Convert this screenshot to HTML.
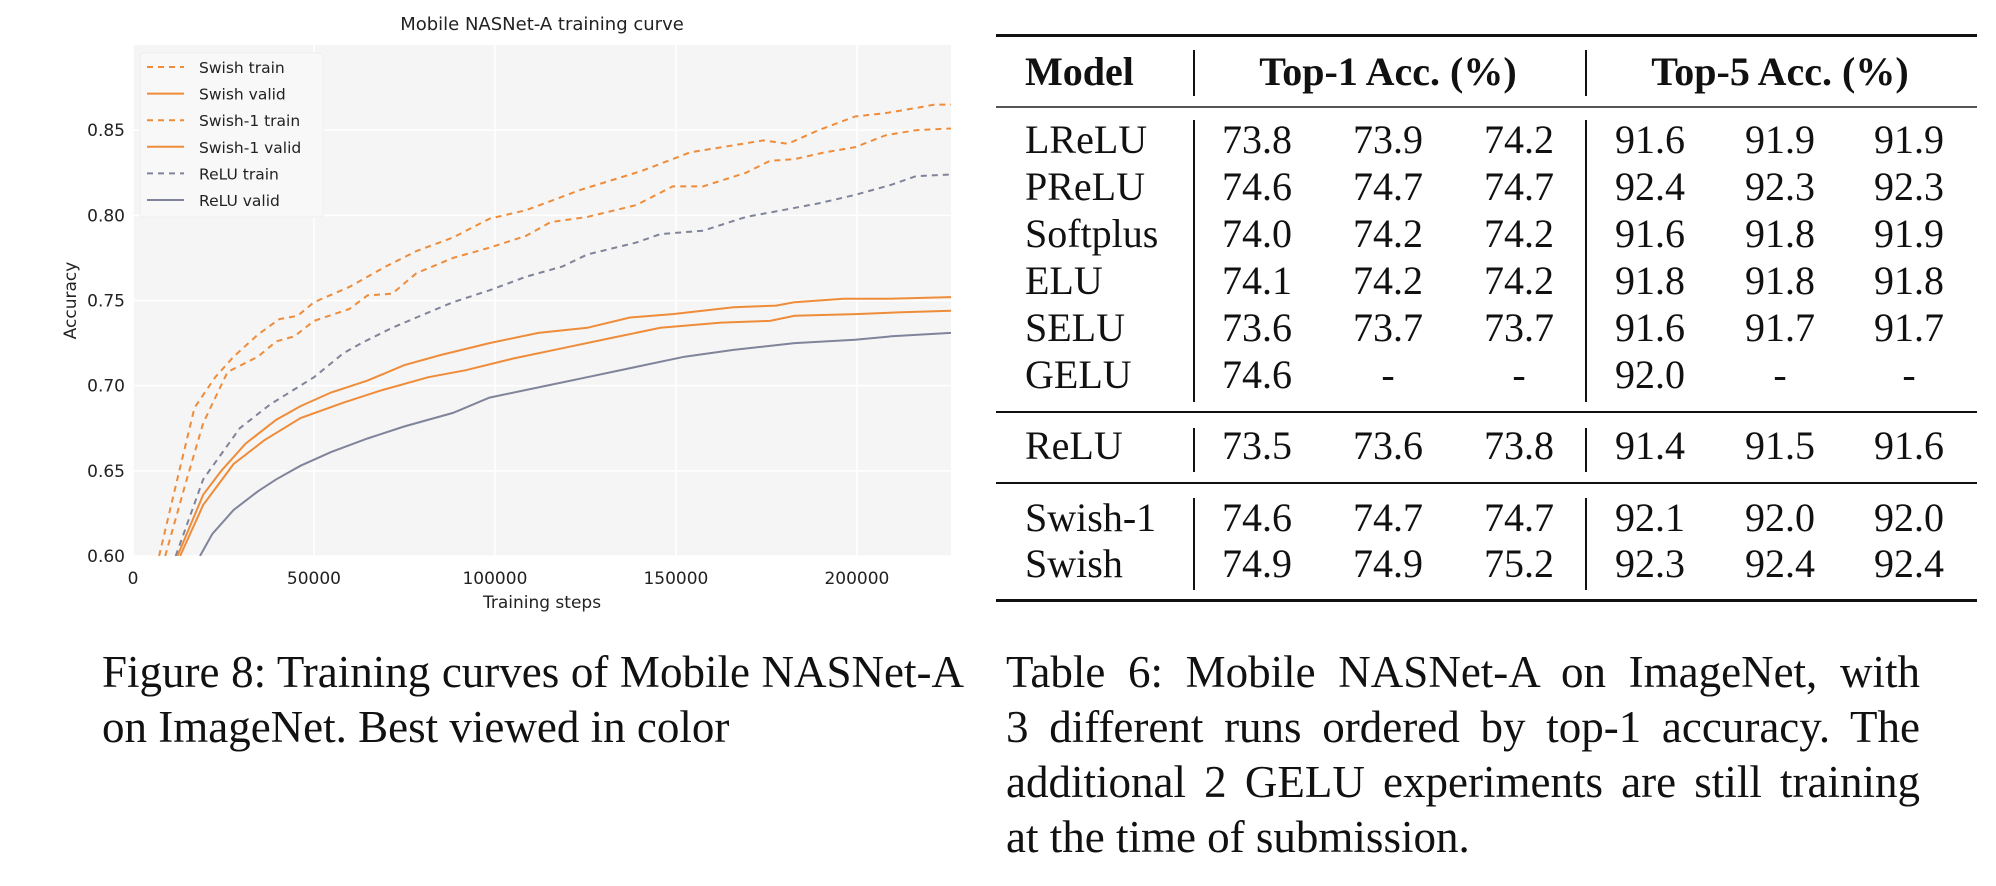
<!DOCTYPE html>
<html><head><meta charset="utf-8">
<style>
html,body{margin:0;padding:0;background:#fff;width:1996px;height:886px;overflow:hidden;position:relative}
.t{position:absolute;font-family:"Liberation Serif",serif;color:#111;white-space:nowrap}
.cl{position:absolute;font-family:"Liberation Serif",serif;color:#111;font-size:45px;line-height:55px;height:55px;white-space:nowrap;text-align:justify;text-align-last:justify}
.cl.last{text-align-last:left}
.rule{position:absolute;background:#111}
</style></head>
<body>
<svg id="chart" width="980" height="640" style="position:absolute;left:0;top:0;font-family:'DejaVu Sans',sans-serif"></svg>

<div class="rule" style="left:996px;top:34px;width:981px;height:3px"></div>
<div class="rule" style="left:996px;top:106px;width:981px;height:2px;background:#555"></div>
<div class="rule" style="left:996px;top:411px;width:981px;height:2px"></div>
<div class="rule" style="left:996px;top:482px;width:981px;height:2px"></div>
<div class="rule" style="left:996px;top:599px;width:981px;height:3px"></div>
<div id="table"></div>

<div>
<div class="cl" style="left:102px;top:645px;width:862px">Figure 8: Training curves of Mobile NASNet-A</div>
<div class="cl last" style="left:102px;top:700px;width:862px">on ImageNet. Best viewed in color</div>
</div>
<div>
<div class="cl" style="left:1006px;top:645px;width:914px">Table 6: Mobile NASNet-A on ImageNet, with</div>
<div class="cl" style="left:1006px;top:700px;width:914px">3 different runs ordered by top-1 accuracy. The</div>
<div class="cl" style="left:1006px;top:755px;width:914px">additional 2 GELU experiments are still training</div>
<div class="cl last" style="left:1006px;top:810px;width:914px">at the time of submission.</div>
</div>

<script>
// ---- chart data ----
const swishTrainX=[7200,12800,17000,22700,27800,34500,40400,45500,50000,59800,69900,78300,88400,98500,108600,123700,140500,154000,174200,180900,189400,199500,207900,216300,221400,226000];
const swishTrainY=[0.60,0.65,0.687,0.705,0.717,0.73,0.739,0.741,0.749,0.758,0.77,0.779,0.787,0.798,0.803,0.815,0.826,0.837,0.844,0.842,0.850,0.858,0.86,0.863,0.865,0.865];
const swish1TrainX=[8900,14300,19400,26100,34500,39600,44600,50000,59800,64800,71600,78300,88400,98500,108600,115400,125500,139000,149100,157500,169300,176000,182800,191200,199500,207900,216300,226000];
const swish1TrainY=[0.60,0.641,0.678,0.708,0.717,0.726,0.729,0.738,0.745,0.753,0.754,0.766,0.775,0.781,0.788,0.796,0.799,0.806,0.817,0.817,0.825,0.832,0.833,0.837,0.84,0.847,0.85,0.851];
const reluTrainX=[11800,19400,29500,37900,50000,58100,63100,71600,78300,88400,98500,108600,118700,125500,139000,145700,157500,169300,179400,189400,199500,209600,216300,226000];
const reluTrainY=[0.60,0.645,0.675,0.689,0.705,0.719,0.725,0.734,0.74,0.749,0.756,0.764,0.77,0.777,0.784,0.789,0.791,0.799,0.803,0.807,0.812,0.818,0.823,0.824];
const swishValidX=[12300,19400,24400,31100,39600,46300,54700,64800,74900,85000,98500,112000,125500,137300,149100,165900,177700,182800,196300,207900,226000];
const swishValidY=[0.60,0.636,0.65,0.666,0.68,0.688,0.696,0.703,0.712,0.718,0.725,0.731,0.734,0.74,0.742,0.746,0.747,0.749,0.751,0.751,0.752];
const swish1ValidX=[13000,19400,27800,36300,46300,58100,68200,81600,91800,105200,118700,132100,145700,162500,176000,182800,199500,211300,226000];
const swish1ValidY=[0.60,0.63,0.654,0.668,0.681,0.69,0.697,0.705,0.709,0.716,0.722,0.728,0.734,0.737,0.738,0.741,0.742,0.743,0.744];
const reluValidX=[18500,21900,27800,34500,39600,46300,54700,64800,74900,88400,98500,112000,125500,139000,152400,165900,182800,199500,209600,226000];
const reluValidY=[0.60,0.613,0.627,0.638,0.645,0.653,0.661,0.669,0.676,0.684,0.693,0.699,0.705,0.711,0.717,0.721,0.725,0.727,0.729,0.731];
const xTicks=[0,50000,100000,150000,200000];
const yTicks=[0.60,0.65,0.70,0.75,0.80,0.85];
const yTickLabels=["0.60","0.65","0.70","0.75","0.80","0.85"];
const legendLabels=["Swish train","Swish valid","Swish-1 train","Swish-1 valid","ReLU train","ReLU valid"];

const L=133,R=951,T=45,B=556,XMAX=226000,YMIN=0.60,YMAX=0.90;
const sx=v=>L+(v/XMAX)*(R-L);
const sy=v=>B-(v-YMIN)/(YMAX-YMIN)*(B-T);
const NS="http://www.w3.org/2000/svg";
const svg=document.getElementById('chart');
function mk(tag,attrs,parent){const e=document.createElementNS(NS,tag);for(const k in attrs)e.setAttribute(k,attrs[k]);(parent||svg).appendChild(e);return e;}

const clip=mk('clipPath',{id:'pc'});mk('rect',{x:L,y:T,width:R-L,height:B-T},clip);
let e=mk('rect',{x:L,y:T,width:R-L,height:B-T,fill:'#f5f5f5'});


xTicks.forEach(v=>{
  const g=mk('line',{x1:sx(v),x2:sx(v),y1:T,y2:B,stroke:'#fff','stroke-width':1.5});
  
  
  const t=mk('text',{x:sx(v),y:B+28,'text-anchor':'middle','font-size':17,fill:'#222'});t.textContent=v;
  
  
});
yTicks.forEach((v,i)=>{
  const g=mk('line',{x1:L,x2:R,y1:sy(v),y2:sy(v),stroke:'#fff','stroke-width':1.5});
  
  
  const t=mk('text',{x:L-8,y:sy(v)+6,'text-anchor':'end','font-size':17,fill:'#222'});t.textContent=yTickLabels[i];
  
  
});
const orange='#ef8c3a',gray='#80849a';
const series=[
 [swishTrainX,swishTrainY,orange,true,'swish-train-line'],
 [swish1TrainX,swish1TrainY,orange,true,'swish1-train-line'],
 [reluTrainX,reluTrainY,gray,true,'relu-train-line'],
 [swishValidX,swishValidY,orange,false,'swish-valid-line'],
 [swish1ValidX,swish1ValidY,orange,false,'swish1-valid-line'],
 [reluValidX,reluValidY,gray,false,'relu-valid-line']];
series.forEach(s=>{
  const d=s[0].map((x,i)=>(i?'L':'M')+sx(x).toFixed(1)+','+sy(s[1][i]).toFixed(1)).join('');
  const p=mk('path',{d:d,fill:'none',stroke:s[2],'stroke-width':2,'clip-path':'url(#pc)','stroke-dasharray':s[3]?'6,5':'none'});
  
  
});
// legend
const lg=mk('rect',{x:140,y:53,width:183,height:164,rx:3,fill:'#f8f8f8',stroke:'#eee'});


const legStyle=[[orange,true],[orange,false],[orange,true],[orange,false],[gray,true],[gray,false]];
legendLabels.forEach((lab,i)=>{
  const y=67+i*26.6;
  const ln=mk('line',{x1:147,x2:184,y1:y,y2:y,stroke:legStyle[i][0],'stroke-width':2,'stroke-dasharray':legStyle[i][1]?'6,5':'none'});
  
  
  const t=mk('text',{x:199,y:y+6,'font-size':15.5,fill:'#222'});t.textContent=lab;
  
  
});
let tt=mk('text',{x:(L+R)/2,y:30,'text-anchor':'middle','font-size':18,fill:'#222'});tt.textContent='Mobile NASNet-A training curve';


tt=mk('text',{x:(L+R)/2,y:608,'text-anchor':'middle','font-size':17,fill:'#222'});tt.textContent='Training steps';


tt=mk('text',{x:0,y:0,'text-anchor':'middle','font-size':17,fill:'#222',transform:'translate(76,'+((T+B)/2)+') rotate(-90)'});tt.textContent='Accuracy';



// ---- table ----
const models=["LReLU","PReLU","Softplus","ELU","SELU","GELU","ReLU","Swish-1","Swish"];
const rowY=[140,187,234,281,328,375,446,518,564];
const top1=[["73.8","73.9","74.2"],["74.6","74.7","74.7"],["74.0","74.2","74.2"],["74.1","74.2","74.2"],["73.6","73.7","73.7"],["74.6","-","-"],["73.5","73.6","73.8"],["74.6","74.7","74.7"],["74.9","74.9","75.2"]];
const top5=[["91.6","91.9","91.9"],["92.4","92.3","92.3"],["91.6","91.8","91.9"],["91.8","91.8","91.8"],["91.6","91.7","91.7"],["92.0","-","-"],["91.4","91.5","91.6"],["92.1","92.0","92.0"],["92.3","92.4","92.4"]];
const colX=[1257,1388,1519,1650,1780,1909];
const tb=document.getElementById('table');
function txt(s,x,y,anchor,bold,name){
  const d=document.createElement('div');d.className='t';d.textContent=s;
  d.style.fontSize='40px';d.style.lineHeight='46px';d.style.top=(y-23)+'px';
  if(bold)d.style.fontWeight='bold';
  if(anchor==='c'){d.style.left=(x-200)+'px';d.style.width='400px';d.style.textAlign='center';}
  else d.style.left=x+'px';
  
  
  tb.appendChild(d);
}
txt("Model",1025,72,'l',true,'header-model');
txt("Top-1 Acc. (%)",1388,72,'c',true,'header-top1');
txt("Top-5 Acc. (%)",1780,72,'c',true,'header-top5');
models.forEach((m,i)=>{
  txt(m,1025,rowY[i],'l',false,'model-name');
  top1[i].forEach((v,j)=>txt(v,colX[j],rowY[i],'c',false,'top1-cell'));
  top5[i].forEach((v,j)=>txt(v,colX[j+3],rowY[i],'c',false,'top5-cell'));
});
[[50,96],[120,402],[428,472],[498,590]].forEach(seg=>{
  [1193,1585].forEach(x=>{
    const d=document.createElement('div');d.className='rule';
    d.style.left=x+'px';d.style.top=seg[0]+'px';d.style.width='1.5px';d.style.height=(seg[1]-seg[0])+'px';
    
    
    tb.appendChild(d);
  });
});
</script>
</body></html>
